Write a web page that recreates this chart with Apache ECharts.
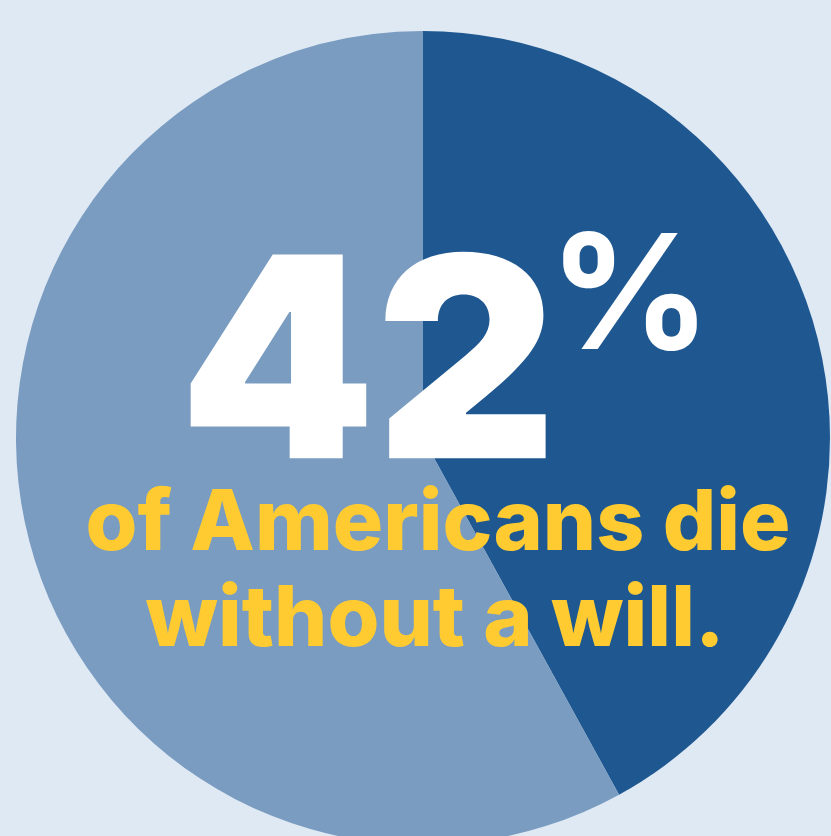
<!DOCTYPE html>
<html><head><meta charset="utf-8">
<script src="https://cdn.jsdelivr.net/npm/echarts@6/dist/echarts.min.js"></script>
<style>html,body{margin:0;padding:0;background:#dfe9f4;}#c{width:831px;height:836px;}</style>
</head><body><div id="c"></div>
<script>
const categories = ['Die without a will', 'Have a will'];
const values = [42, 58];
const colors = ['#1f5891', '#7a9cc0'];
const bigNumber = '42';
const percentSign = '%';
const captionLines = ['of Americans die', 'without a will.'];

const chart = echarts.init(document.getElementById('c'), null, {renderer: 'canvas'});
function txt(t, size, weight, color, fam) {
  return {text: t, fill: color, fontSize: size, fontWeight: weight, fontFamily: fam, textAlign: 'center'};
}
const inter = 'Inter, "Noto Sans", sans-serif';
chart.setOption({
  backgroundColor: '#dfe9f4',
  animation: false,
  series: [{
    type: 'pie',
    center: [423, 438],
    radius: 407,
    startAngle: 90,
    clockwise: true,
    label: {show: false},
    labelLine: {show: false},
    emphasis: {disabled: true},
    itemStyle: {borderWidth: 0},
    data: categories.map((c, i) => ({name: c, value: values[i], itemStyle: {color: colors[i]}}))
  }],
  graphic: [
    {type: 'text', z: 100, x: 368, y: 234, style: txt(bigNumber, 280, 900, '#ffffff', inter)},
    {type: 'text', z: 100, x: 630, y: 221, style: txt(percentSign, 160, 700, '#ffffff', inter)},
    {type: 'text', z: 100, x: 438, y: 483, style: txt(captionLines[0], 84, 800, '#ffcb30', inter)},
    {type: 'text', z: 100, x: 435, y: 579, style: txt(captionLines[1], 84, 800, '#ffcb30', inter)}
  ]
});
</script></body></html>
